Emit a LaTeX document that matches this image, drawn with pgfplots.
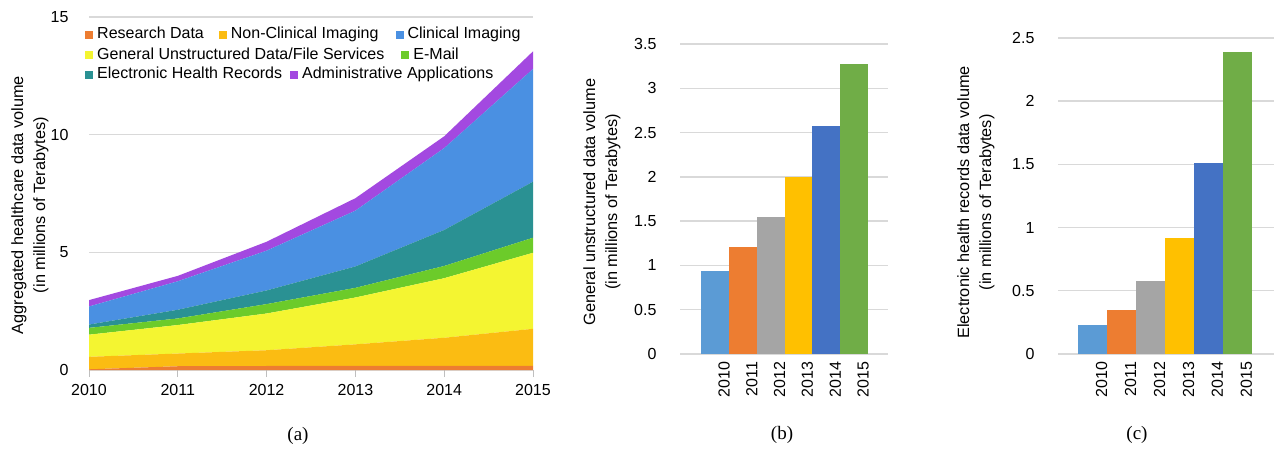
\documentclass[border=0pt]{standalone}
\usepackage{pgfplots}
\pgfplotsset{compat=1.18}
\usepackage{pgfplotstable}
\usepackage{fontspec}
\setmainfont{Liberation Sans}
\newfontfamily\serifT{Liberation Serif}

\definecolor{research}{HTML}{ED7D31}
\definecolor{nonclin}{HTML}{FBBC12}
\definecolor{clin}{HTML}{4A90E2}
\definecolor{general}{HTML}{F4F531}
\definecolor{email}{HTML}{6CCB2A}
\definecolor{ehr}{HTML}{2A9193}
\definecolor{admin}{HTML}{A349E0}
\definecolor{gridgray}{HTML}{D9D9D9}
\definecolor{tickgray}{HTML}{BFBFBF}
\definecolor{b1}{HTML}{5B9BD5}
\definecolor{b2}{HTML}{ED7D31}
\definecolor{b3}{HTML}{A5A5A5}
\definecolor{b4}{HTML}{FFC000}
\definecolor{b5}{HTML}{4472C4}
\definecolor{b6}{HTML}{70AD47}

\pgfplotstableread{
year R NC G E EHR CI A
2010 0.03 0.53 0.94 0.29 0.14 0.77 0.27
2011 0.16 0.54 1.21 0.28 0.37 1.21 0.23
2012 0.17 0.67 1.56 0.40 0.58 1.69 0.38
2013 0.17 0.92 1.99 0.41 0.91 2.37 0.53
2014 0.17 1.20 2.53 0.52 1.53 3.48 0.50
2015 0.17 1.58 3.23 0.64 2.38 4.79 0.75
}\dataA

\newcommand{\lsq}[1]{\textcolor{#1}{\rule{8pt}{8pt}}\hspace{4pt}}

\tikzset{legtext/.style={anchor=west, inner sep=0pt, font=\fontsize{16}{19}\selectfont, text height=11pt, text depth=3pt}}

\pgfplotsset{
  common/.style={
    scale only axis, anchor=south west,
    ymajorgrids, grid style={draw=gridgray, line width=1.4pt},
    axis line style={draw=none},
    ytick style={draw=none},
    ticklabel style={font=\fontsize{16}{19}\selectfont},
    /pgf/number format/assume math mode=true,
    clip=false,
  },
  barax/.style={
    common, ybar, bar width=1, xtick={0,...,5},
    xticklabels={2010,2011,2012,2013,2014,2015},
    xtick style={draw=none},
    xticklabel style={rotate=90, anchor=east, yshift=-9pt},
    yticklabel style={xshift=-20pt},
    ylabel style={align=center, font=\fontsize{16.3}{22}\selectfont, anchor=center},
  },
}

\begin{document}
\begin{tikzpicture}
\useasboundingbox (0,0) rectangle (1277pt,450pt);

% ---------- (a)
\begin{axis}[common, at={(89pt,80pt)}, width=444pt, height=353pt,
  xmin=2010, xmax=2015, ymin=0, ymax=15,
  xtick={2010,2011,2012,2013,2014,2015}, ytick={0,5,10,15},
  stack plots=y,
  xtick pos=bottom, tick align=outside, major tick length=7pt,
  xtick style={draw=tickgray, line width=1pt},
  xticklabel style={/pgf/number format/1000 sep={}, yshift=-4pt},
  yticklabel style={xshift=-10pt},
  ylabel={Aggregated healthcare data volume\\(in millions of Terabytes)},
  ylabel style={align=center, font=\fontsize{16.3}{22}\selectfont, at={(rel axis cs:-0.133,0.467)}, anchor=center},
]
\addplot[fill=research, draw=none] table[x=year,y=R]{\dataA} \closedcycle;
\addplot[fill=nonclin, draw=none] table[x=year,y=NC]{\dataA} \closedcycle;
\addplot[fill=general, draw=none] table[x=year,y=G]{\dataA} \closedcycle;
\addplot[fill=email, draw=none] table[x=year,y=E]{\dataA} \closedcycle;
\addplot[fill=ehr, draw=none] table[x=year,y=EHR]{\dataA} \closedcycle;
\addplot[fill=clin, draw=none] table[x=year,y=CI]{\dataA} \closedcycle;
\addplot[fill=admin, draw=none] table[x=year,y=A]{\dataA} \closedcycle;
\node[legtext] at (rel axis cs:-0.009,0.949) {\lsq{research}Research Data\hspace{15pt}\lsq{nonclin}Non-Clinical Imaging\hspace{17pt}\lsq{clin}Clinical Imaging};
\node[legtext] at (rel axis cs:-0.009,0.892) {\lsq{general}General Unstructured Data/File Services\hspace{17pt}\lsq{email}E-Mail};
\node[legtext] at (rel axis cs:-0.009,0.836) {\lsq{ehr}Electronic Health Records\hspace{8pt}\lsq{admin}Administrative Applications};
\end{axis}

% ---------- (b)
\begin{axis}[barax, at={(680pt,96pt)}, width=208pt, height=310pt,
  xmin=-1.26, xmax=6.22, ymin=0, ymax=3.5,
  ytick={0,0.5,1,1.5,2,2.5,3,3.5},
  ylabel={General unstructured data volume\\(in millions of Terabytes)},
  ylabel style={at={(rel axis cs:-0.375,0.49)}},
]
\addplot[fill=b1, draw=none, bar shift=0pt] coordinates {(0,0.94)};
\addplot[fill=b2, draw=none, bar shift=0pt] coordinates {(1,1.21)};
\addplot[fill=b3, draw=none, bar shift=0pt] coordinates {(2,1.55)};
\addplot[fill=b4, draw=none, bar shift=0pt] coordinates {(3,2.00)};
\addplot[fill=b5, draw=none, bar shift=0pt] coordinates {(4,2.57)};
\addplot[fill=b6, draw=none, bar shift=0pt] coordinates {(5,3.27)};
\end{axis}

% ---------- (c)
\begin{axis}[barax, at={(1058pt,96pt)}, width=216pt, height=316pt,
  xmin=-1.19, xmax=6.26, ymin=0, ymax=2.5,
  ytick={0,0.5,1,1.5,2,2.5},
  ylabel={Electronic health records data volume\\(in millions of Terabytes)},
  ylabel style={at={(rel axis cs:-0.38,0.48)}},
]
\addplot[fill=b1, draw=none, bar shift=0pt] coordinates {(0,0.23)};
\addplot[fill=b2, draw=none, bar shift=0pt] coordinates {(1,0.35)};
\addplot[fill=b3, draw=none, bar shift=0pt] coordinates {(2,0.58)};
\addplot[fill=b4, draw=none, bar shift=0pt] coordinates {(3,0.92)};
\addplot[fill=b5, draw=none, bar shift=0pt] coordinates {(4,1.51)};
\addplot[fill=b6, draw=none, bar shift=0pt] coordinates {(5,2.39)};
\end{axis}

\node[font=\serifT\fontsize{19}{22}\selectfont] at (298pt,14pt) {(a)};
\node[font=\serifT\fontsize{19}{22}\selectfont] at (782pt,15pt) {(b)};
\node[font=\serifT\fontsize{19}{22}\selectfont] at (1137pt,15pt) {(c)};
\end{tikzpicture}
\end{document}
